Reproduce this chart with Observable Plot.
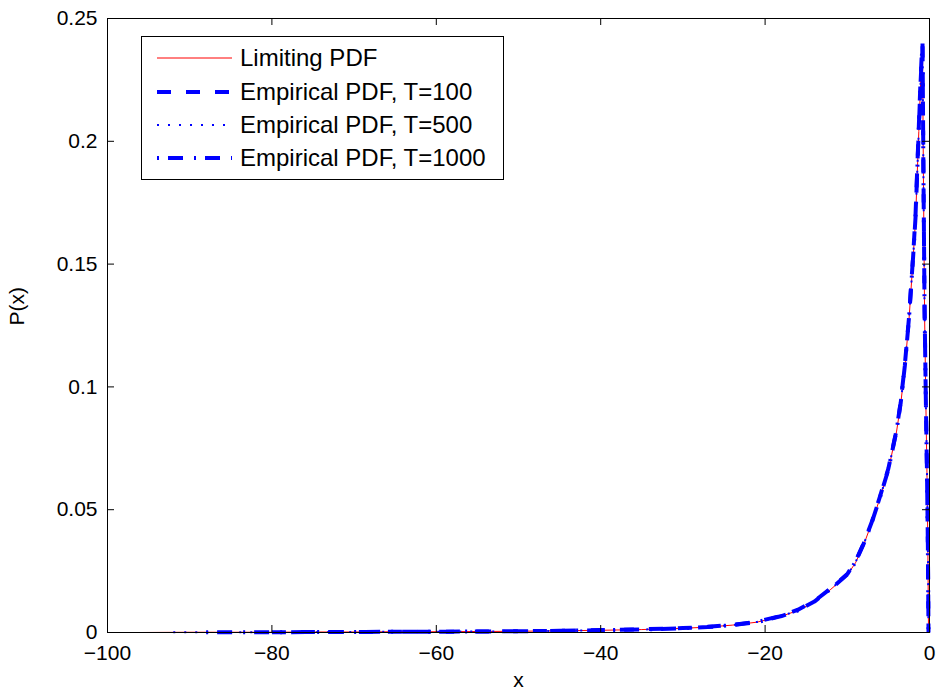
<!DOCTYPE html>
<html><head><meta charset="utf-8">
<script src="https://cdn.jsdelivr.net/npm/d3@7"></script>
<script src="https://cdn.jsdelivr.net/npm/@observablehq/plot@0.6"></script>
<style>
html,body{margin:0;padding:0;background:#fff;}
#wrap{position:relative;width:938px;height:696px;}
#legend{position:absolute;left:141px;top:36px;width:361px;height:142px;border:1px solid #000;background:#fff;}
</style></head><body><div id="wrap"><div id="legend"></div></div>
<script>
const xTicks = [-100, -80, -60, -40, -20, 0];
const yTicks = [0, 0.05, 0.1, 0.15, 0.2, 0.25];
const seriesNames = ["Limiting PDF", "Empirical PDF, T=100", "Empirical PDF, T=500", "Empirical PDF, T=1000"];

const limX = [-96,-90,-85,-80,-75,-70,-65,-60,-55,-50,-45,-40,-35,-30,-27,-24,-21,-18,-16,-14,-12,-10,-9,-8,-7,-6,-5,-4,-3.5,-3,-2.5,-2,-1.7,-1.5,-1.3,-1.1,-0.95,-0.85,-0.8,-0.75,-0.6,-0.45,-0.3,-0.2,-0.12];
const limY = [0,0.0001,0.0001,0.0001,0.0002,0.0002,0.0003,0.0003,0.0004,0.0005,0.0007,0.0009,0.0012,0.0017,0.0022,0.0030,0.0042,0.0066,0.0090,0.0124,0.0176,0.0234,0.0284,0.0358,0.0448,0.0550,0.0660,0.0820,0.0930,0.1080,0.1270,0.1520,0.1680,0.1860,0.2040,0.2220,0.2320,0.2360,0.2140,0.1900,0.1300,0.0950,0.0630,0.0350,0];

const emp100X = [-80,-75,-70,-65,-60,-55,-50,-45,-40,-35,-30,-27,-24,-21,-18,-16,-14,-12,-10,-9,-8,-7,-6,-5,-4,-3.5,-3,-2.5,-2,-1.7,-1.5,-1.3,-1.1,-0.95,-0.85,-0.8,-0.75,-0.6,-0.45,-0.3,-0.2,-0.12];
const emp100Y = [0.0001,0.0002,0.0002,0.0003,0.0003,0.0004,0.0005,0.0007,0.0010,0.0013,0.0018,0.0023,0.0031,0.0044,0.0068,0.0093,0.0128,0.0180,0.0238,0.0290,0.0364,0.0452,0.0556,0.0668,0.0826,0.0940,0.1090,0.1280,0.1530,0.1700,0.1880,0.2060,0.2240,0.2350,0.2400,0.2180,0.1930,0.1320,0.0960,0.0640,0.0360,0];

const emp500X = [-92,-85,-80,-75,-70,-65,-60,-55,-50,-45,-40,-35,-30,-27,-24,-21,-18,-16,-14,-12,-10,-9,-8,-7,-6,-5,-4,-3.5,-3,-2.5,-2,-1.7,-1.5,-1.3,-1.1,-0.95,-0.85,-0.8,-0.75,-0.6,-0.45,-0.3,-0.2,-0.12];
const emp500Y = [0.0001,0.0001,0.0001,0.0002,0.0002,0.0003,0.0003,0.0004,0.0005,0.0007,0.0009,0.0012,0.0017,0.0022,0.0030,0.0043,0.0066,0.0091,0.0125,0.0177,0.0235,0.0286,0.0360,0.0450,0.0552,0.0662,0.0822,0.0934,0.1084,0.1274,0.1524,0.1688,0.1866,0.2046,0.2226,0.2330,0.2380,0.2160,0.1910,0.1310,0.0955,0.0635,0.0355,0];

const emp1000X = [-88,-80,-75,-70,-65,-60,-55,-50,-45,-40,-35,-30,-27,-24,-21,-18,-16,-14,-12,-10,-9,-8,-7,-6,-5,-4,-3.5,-3,-2.5,-2,-1.7,-1.5,-1.3,-1.1,-0.95,-0.85,-0.8,-0.75,-0.6,-0.45,-0.3,-0.2,-0.12];
const emp1000Y = [0.0001,0.0001,0.0002,0.0002,0.0003,0.0003,0.0004,0.0005,0.0007,0.0009,0.0012,0.0017,0.0022,0.0030,0.0042,0.0067,0.0090,0.0126,0.0178,0.0236,0.0287,0.0362,0.0450,0.0553,0.0664,0.0824,0.0936,0.1086,0.1276,0.1526,0.1690,0.1870,0.2050,0.2230,0.2335,0.2390,0.2170,0.1920,0.1315,0.0958,0.0638,0.0358,0];

const toRows = (xs, ys) => xs.map((x, i) => ({x, y: ys[i]}));
const lim = toRows(limX, limY);
const e100 = toRows(emp100X, emp100Y);
const e500 = toRows(emp500X, emp500Y);
const e1000 = toRows(emp1000X, emp1000Y);

const styles = [
  {stroke: "#ff0000", strokeWidth: 1, strokeDasharray: null},
  {stroke: "#0000ff", strokeWidth: 4, strokeDasharray: "14 15"},
  {stroke: "#0000ff", strokeWidth: 2, strokeDasharray: "2 9"},
  {stroke: "#0000ff", strokeWidth: 4, strokeDasharray: "2 9 15 11"}
];

const font = '"Liberation Sans", Arial, Helvetica, sans-serif';
const fmtX = d => d < 0 ? "\u2212" + Math.abs(d) : String(d);

const chart = Plot.plot({
  width: 938, height: 696,
  marginLeft: 107, marginRight: 9, marginTop: 18, marginBottom: 64,
  x: {domain: [-100, 0]},
  y: {domain: [0, 0.25]},
  style: {fontFamily: font, fontSize: "21px", color: "black", background: "white"},
  marks: [
    Plot.line(lim, {x: "x", y: "y", ...styles[0], strokeLinecap: "butt"}),
    Plot.line(e100, {x: "x", y: "y", ...styles[1], strokeLinecap: "butt"}),
    Plot.line(e500, {x: "x", y: "y", ...styles[2], strokeLinecap: "butt"}),
    Plot.line(e1000, {x: "x", y: "y", ...styles[3], strokeLinecap: "butt"}),
    Plot.frame({stroke: "black", strokeWidth: 1}),
    Plot.tickX(xTicks, {x: d => d, stroke: "black", insetTop: 607}),
    Plot.tickX(xTicks, {x: d => d, stroke: "black", insetBottom: 607}),
    Plot.tickY(yTicks, {y: d => d, stroke: "black", insetRight: 815}),
    Plot.tickY(yTicks, {y: d => d, stroke: "black", insetLeft: 815}),
    Plot.axisX(xTicks, {tickSize: 0, tickPadding: 13, tickFormat: fmtX, label: null, fontSize: 21}),
    Plot.axisY(yTicks, {tickSize: 0, tickPadding: 10, tickFormat: d => String(d), label: null, fontSize: 21}),
    Plot.text(["x"], {text: d => d, frameAnchor: "bottom", dy: 54, fontSize: 21}),
    Plot.text(["P(x)"], {text: d => d, frameAnchor: "left", rotate: -90, dx: -90, fontSize: 21})
  ]
});
document.getElementById("wrap").prepend(chart);

// Legend
const lg = d3.select("#legend").append("svg").attr("width", 361).attr("height", 142)
  .style("display", "block");
const rowY = [21, 55, 88, 121];
seriesNames.forEach((name, i) => {
  const s = styles[i];
  lg.append("line").attr("x1", 15).attr("x2", 90).attr("y1", rowY[i]).attr("y2", rowY[i])
    .attr("stroke", s.stroke).attr("stroke-width", s.strokeWidth)
    .attr("stroke-dasharray", s.strokeDasharray);
  lg.append("text").attr("x", 98).attr("y", rowY[i]).attr("dy", "0.35em")
    .attr("font-family", font).attr("font-size", 24).attr("fill", "black").text(name);
});
</script></body></html>
